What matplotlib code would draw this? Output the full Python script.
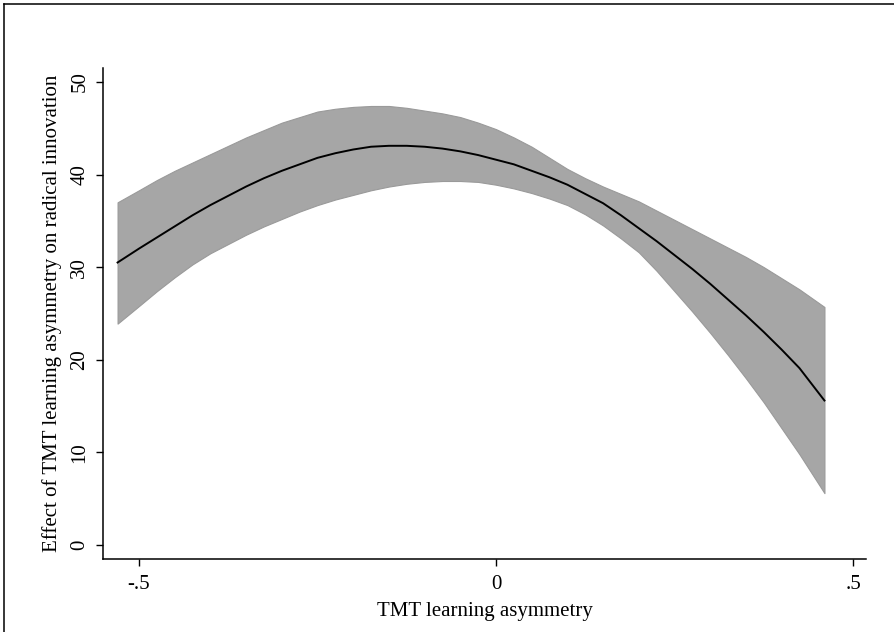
import numpy as np
import matplotlib
matplotlib.use('Agg')
from matplotlib import pyplot as plt
from matplotlib.lines import Line2D

# values
asym = [-0.53, -0.50, -0.475, -0.45, -0.425, -0.40, -0.375, -0.35, -0.325, -0.30,
        -0.275, -0.25, -0.225, -0.20, -0.175, -0.15, -0.125, -0.10, -0.075, -0.05,
        -0.025, 0.0, 0.025, 0.05, 0.075, 0.10, 0.125, 0.15, 0.175, 0.20,
        0.225, 0.25, 0.275, 0.30, 0.325, 0.35, 0.375, 0.40, 0.425, 0.46]
effect = [30.5, 32.0, 33.2, 34.4, 35.6, 36.7, 37.7, 38.7, 39.6, 40.4,
          41.1, 41.8, 42.3, 42.7, 43.0, 43.1, 43.1, 43.0, 42.8, 42.5,
          42.1, 41.6, 41.1, 40.4, 39.7, 38.9, 37.9, 36.9, 35.6, 34.2,
          32.8, 31.3, 29.8, 28.2, 26.5, 24.8, 23.0, 21.1, 19.1, 15.6]
upper = [37.0, 38.3, 39.4, 40.4, 41.3, 42.2, 43.1, 44.0, 44.8, 45.6,
         46.2, 46.8, 47.1, 47.3, 47.4, 47.4, 47.2, 46.9, 46.6, 46.2,
         45.6, 44.9, 44.0, 43.0, 41.8, 40.6, 39.6, 38.7, 37.9, 37.1,
         36.1, 35.1, 34.1, 33.1, 32.1, 31.1, 30.0, 28.8, 27.6, 25.7]
lower = [23.9, 25.8, 27.4, 28.9, 30.3, 31.5, 32.5, 33.5, 34.4, 35.2,
         36.0, 36.7, 37.3, 37.8, 38.3, 38.7, 39.0, 39.2, 39.3, 39.3,
         39.2, 38.9, 38.5, 38.0, 37.4, 36.7, 35.7, 34.5, 33.1, 31.6,
         29.6, 27.4, 25.2, 22.9, 20.5, 18.0, 15.4, 12.6, 9.8, 5.6]

xticks = [-0.5, 0, 0.5]
xticklabels = ['-.5', '0', '.5']
yticks = [0, 10, 20, 30, 40, 50]

plt.rcParams['font.family'] = 'Liberation Serif'
plt.rcParams['font.size'] = 15

fig = plt.figure(figsize=(8.94, 6.32), dpi=100)
ax = fig.add_axes([103/894, 1-559/632, 763/894, 491/632])

ax.fill_between(asym, lower, upper, facecolor='#a6a6a6', edgecolor='#9a9a9a', linewidth=0.8)
ax.plot(asym, effect, color='black', linewidth=1.4)

ax.set_xlim(-0.5504, 0.5182)
ax.set_ylim(-1.51, 51.5)

ax.spines['top'].set_visible(False)
ax.spines['right'].set_visible(False)
for s in ['left', 'bottom']:
    ax.spines[s].set_linewidth(1.1)

ax.set_xticks(xticks)
ax.set_xticklabels(xticklabels)
ax.set_yticks(yticks)
ax.set_yticklabels([str(v) for v in yticks], rotation=90, va='center')
ax.tick_params(axis='x', length=5, width=1, pad=6.5)
ax.tick_params(axis='y', length=5, width=1, pad=4.8)

ax.set_xlabel('TMT learning asymmetry')
ax.set_ylabel('Effect of TMT learning asymmetry on radical innovation')
ax.xaxis.set_label_coords(0.5, (559-602)/491)
ax.yaxis.set_label_coords((62.5-103)/763, 0.5)

# frame on the top and left edge of the picture
fig.add_artist(Line2D([3.5/894, 3.5/894], [0, 1-3.5/632], color='black', linewidth=1.1))
fig.add_artist(Line2D([3.5/894, 1], [1-3.5/632, 1-3.5/632], color='black', linewidth=1.1))

fig.savefig('out.png', dpi=100)
